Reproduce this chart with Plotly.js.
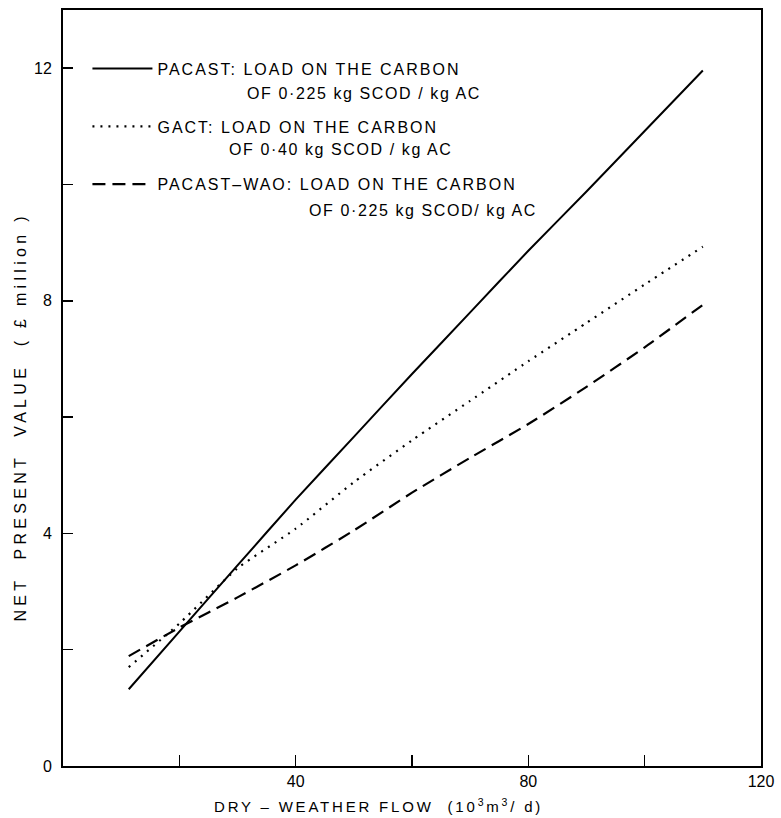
<!DOCTYPE html>
<html>
<head>
<meta charset="utf-8">
<script src="https://cdn.plot.ly/plotly-3.0.1.min.js"></script>
<style>
  html, body { margin: 0; padding: 0; background: #fff; }
  #chart { width: 781px; height: 818px; }
  .legendtext { letter-spacing: 2px; }
  .annotation-text { letter-spacing: 1.6px; }
  .annotation[data-index="3"] .annotation-text { letter-spacing: 2.8px; }
  .annotation[data-index="4"] .annotation-text { letter-spacing: 4.3px; }
</style>
</head>
<body>
<div id="chart"></div>
<script>
// Dry-weather flow (10^3 m^3/d)
const flow = [11.3, 20, 30, 40, 50, 60, 70, 80, 90, 100, 110];

// Net present value (£ million) for each treatment option
const pacast    = [1.32, 2.31, 3.45, 4.58, 5.66, 6.74, 7.80, 8.86, 9.88, 10.92, 11.96];
const gact      = [1.70, 2.45, 3.40, 4.08, 4.88, 5.60, 6.28, 6.96, 7.62, 8.28, 8.93];
const pacastWao = [1.89, 2.38, 2.90, 3.45, 4.05, 4.70, 5.30, 5.88, 6.52, 7.20, 7.93];

const seriesNames = [
  'PACAST: LOAD ON THE CARBON',
  'GACT: LOAD ON THE CARBON',
  'PACAST\u2013WAO: LOAD ON THE CARBON'
];
const seriesSubtitles = [
  'OF 0\u00b7225 kg SCOD / kg AC',
  'OF 0\u00b740 kg SCOD / kg AC',
  'OF 0\u00b7225 kg SCOD/ kg AC'
];

const xTickVals = [40, 80, 120];
const yTickVals = [0, 4, 8, 12];

const FONT = 'Liberation Sans, Arial, Helvetica, sans-serif';

const traces = [
  { x: flow, y: pacast,    name: seriesNames[0], legendgroup: 'a',
    line: { color: '#000', width: 2, dash: 'solid', shape: 'spline', smoothing: 0.5 } },
  { x: flow, y: gact,      name: seriesNames[1], legendgroup: 'b',
    line: { color: '#000', width: 2.2, dash: '2px,6px', shape: 'spline', smoothing: 0.5 } },
  { x: flow, y: pacastWao, name: seriesNames[2], legendgroup: 'c',
    line: { color: '#000', width: 2.2, dash: '13px,7px', shape: 'spline', smoothing: 0.5 } }
].map(t => Object.assign({ type: 'scatter', mode: 'lines', hoverinfo: 'skip' }, t));

const subtitleAnnotations = [
  { text: seriesSubtitles[0], x: 0.2607, y: 0.890 },
  { text: seriesSubtitles[1], x: 0.235,  y: 0.816 },
  { text: seriesSubtitles[2], x: 0.3496, y: 0.735 }
].map(a => Object.assign({
  xref: 'paper', yref: 'paper', xanchor: 'left', yanchor: 'middle',
  showarrow: false, font: { family: FONT, size: 16, color: '#000' }
}, a));

const layout = {
  width: 781, height: 818,
  margin: { l: 63, r: 20, t: 10, b: 52 },
  paper_bgcolor: '#fff', plot_bgcolor: '#fff',
  font: { family: FONT, size: 15, color: '#000' },
  showlegend: true,
  legend: {
    x: 0.035, y: 0.945, xanchor: 'left', yanchor: 'top',
    bgcolor: 'rgba(0,0,0,0)', borderwidth: 0, itemwidth: 60,
    font: { family: FONT, size: 16, color: '#000' },
    traceorder: 'grouped', tracegroupgap: 34, itemclick: false, itemdoubleclick: false
  },
  xaxis: {
    range: [0, 120], tickmode: 'array', tickvals: xTickVals,
    ticks: 'inside', ticklen: 11, tickwidth: 1.5, tickcolor: '#000',
    minor: { tickmode: 'array', tickvals: [20, 60, 100], ticks: 'inside', ticklen: 11, tickwidth: 1.5, tickcolor: '#000' },
    showline: true, linewidth: 2, linecolor: '#000', mirror: true,
    showgrid: false, zeroline: false,
    tickfont: { family: FONT, size: 16, color: '#000' }
  },
  yaxis: {
    range: [0, 13], tickmode: 'array', tickvals: yTickVals,
    ticks: 'inside', ticklen: 10, tickwidth: 1.5, tickcolor: '#000',
    minor: { tickmode: 'array', tickvals: [2, 6, 10], ticks: 'inside', ticklen: 10, tickwidth: 1.5, tickcolor: '#000' },
    showline: true, linewidth: 2, linecolor: '#000', mirror: true,
    showgrid: false, zeroline: false, ticklabelstandoff: 6,
    tickfont: { family: FONT, size: 16, color: '#000' }
  },
  annotations: subtitleAnnotations.concat([
    { text: 'DRY \u2013 WEATHER FLOW  (10<sup>3</sup>m<sup>3</sup>/ d)',
      xref: 'paper', yref: 'paper', x: (378 - 63) / 698, y: -0.052,
      xanchor: 'center', yanchor: 'middle', showarrow: false,
      font: { family: FONT, size: 15, color: '#000' } },
    { text: 'NET  PRESENT  VALUE  ( \u00a3 million )',
      xref: 'paper', yref: 'paper', x: -0.062, y: (766 - 417) / 756,
      xanchor: 'center', yanchor: 'middle', textangle: -90, showarrow: false,
      font: { family: FONT, size: 16, color: '#000' } }
  ])
};

Plotly.newPlot('chart', traces, layout, { staticPlot: true, displayModeBar: false });
</script>
</body>
</html>
